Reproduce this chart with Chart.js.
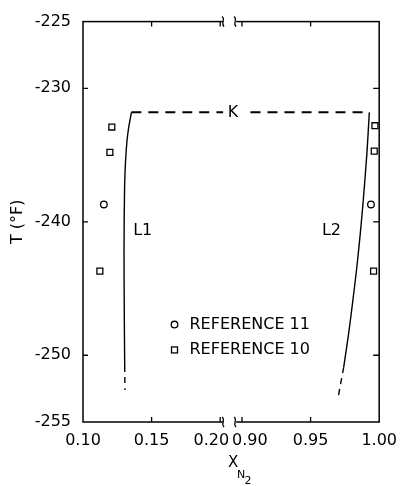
<!DOCTYPE html>
<html>
<head>
<meta charset="utf-8">
<script src="https://cdn.jsdelivr.net/npm/chart.js@4.4.1/dist/chart.umd.min.js"></script>
<style>
  html, body { margin: 0; padding: 0; background: #fff; }
  canvas { display: block; }
</style>
</head>
<body>
<canvas id="chart" width="406" height="486"></canvas>
<script>
// values (x = mole fraction N2, T in deg F)
var xTickValues = [0.10, 0.15, 0.20, 0.90, 0.95, 1.00];
var xTickLabels = ["0.10", "0.15", "0.20", "0.90", "0.95", "1.00"];
var yTickValues = [-255, -250, -240, -230, -225];

var kX = [0.1353, 0.9928];
var kT = [-231.8, -231.8];

var l1X = [0.1353, 0.1332, 0.1320, 0.1310, 0.1303, 0.1299, 0.1301, 0.1304];
var l1T = [-231.8, -233.0, -234.0, -235.5, -237.5, -242.0, -247.0, -250.8];
var l1TailX = [0.1304, 0.1306];
var l1TailT = [-250.8, -252.6];

var l2X = [0.9928, 0.9911, 0.9883, 0.9862, 0.9836, 0.9808, 0.9777, 0.9741];
var l2T = [-231.8, -234.8, -238.5, -240.9, -243.5, -245.9, -248.4, -250.9];
var l2TailX = [0.9741, 0.9700];
var l2TailT = [-250.9, -253.2];

var ref10X = [0.1210, 0.1196, 0.1123, 0.9969, 0.9964, 0.9959];
var ref10T = [-232.9, -234.8, -243.7, -232.8, -234.7, -243.7];
var ref11X = [0.1152, 0.9940];
var ref11T = [-238.7, -238.7];

// broken x axis: 0.10-0.2065 then 0.8906-1.00 squeezed together
var BREAK_LO = 0.2065;
var BREAK_HI = 0.8906;
function toAxis(x) {
    return x <= BREAK_LO ? x : x - (BREAK_HI - BREAK_LO);
}
function pts(xs, ts) {
    return xs.map(function (x, i) { return {x: toAxis(x), y: ts[i]}; });
}

var FONT = '"DejaVu Sans", sans-serif';
var X_LABEL_PAD = 9;

function lineSet(label, xs, ts, dash, width) {
    return {
        label: label,
        data: pts(xs, ts),
        showLine: true,
        borderColor: "#000",
        borderWidth: width || 1.4,
        borderDash: dash || [],
        pointRadius: 0,
        tension: 0.25,
        fill: false
    };
}

var frame = {
    id: "frame",
    afterDraw: function (chart) {
        var c = chart.ctx;
        var a = chart.chartArea;
        var xs = chart.scales.x;
        var ys = chart.scales.y;
        c.save();
        c.strokeStyle = "#000";
        c.fillStyle = "#000";
        c.lineWidth = 1.5;
        c.strokeRect(a.left, a.top, a.right - a.left, a.bottom - a.top);

        // inward tick marks
        c.lineWidth = 1.3;
        c.beginPath();
        [0.15, 0.20, 0.90, 0.95].forEach(function (v) {
            var px = xs.getPixelForValue(toAxis(v));
            c.moveTo(px, a.bottom); c.lineTo(px, a.bottom - 5);
            c.moveTo(px, a.top); c.lineTo(px, a.top + 5);
        });
        [-250, -240, -230].forEach(function (v) {
            var py = ys.getPixelForValue(v);
            c.moveTo(a.left, py); c.lineTo(a.left + 5, py);
            c.moveTo(a.right, py); c.lineTo(a.right - 6, py);
        });
        c.stroke();

        // axis break marks
        var bx = xs.getPixelForValue(BREAK_LO);
        [a.top, a.bottom].forEach(function (y) {
            c.fillStyle = "#fff";
            c.fillRect(bx - 6, y - 3, 13, 6);
            c.beginPath();
            [bx - 6, bx + 6].forEach(function (cx) {
                c.moveTo(cx - 1, y - 5);
                c.bezierCurveTo(cx + 3, y - 2, cx - 3, y + 2, cx + 1, y + 5);
            });
            c.lineWidth = 1.2;
            c.stroke();
        });

        c.fillStyle = "#000";
        c.font = "16px " + FONT;
        c.textBaseline = "middle";

        // the two tick labels beside the break, pushed apart
        var ly = a.bottom + X_LABEL_PAD + 16 * 1.2 / 2;
        c.textAlign = "right";
        c.fillText("0.20", bx, ly);
        c.textAlign = "left";
        c.fillText("0.90", bx + 3, ly);

        // K with a white gap in the dashed line
        var ky = ys.getPixelForValue(kT[0]);
        c.textAlign = "center";
        c.fillStyle = "#fff";
        c.fillRect(bx - 6, ky - 7, 22, 14);
        c.fillStyle = "#000";
        c.fillText("K", bx + 4, ky);

        c.fillText("L1", xs.getPixelForValue(toAxis(0.1435)), ys.getPixelForValue(-240.7));
        c.fillText("L2", xs.getPixelForValue(toAxis(0.9652)), ys.getPixelForValue(-240.7));

        // legend
        var mx = xs.getPixelForValue(toAxis(0.1667));
        var r11y = ys.getPixelForValue(-247.7);
        var r10y = ys.getPixelForValue(-249.6);
        c.lineWidth = 1.3;
        c.beginPath();
        c.arc(mx, r11y, 3.3, 0, Math.PI * 2);
        c.stroke();
        c.strokeRect(mx - 3, r10y - 3, 6, 6);
        c.textAlign = "left";
        c.fillText("REFERENCE 11", mx + 15, r11y);
        c.fillText("REFERENCE 10", mx + 15, r10y);

        // x axis title with subscript
        var tx = bx + 4;
        c.font = "15px " + FONT;
        c.textAlign = "center";
        c.fillText("X", tx, 463);
        c.font = "11px " + FONT;
        c.fillText("N", tx + 8, 475);
        c.fillText("2", tx + 15, 481);
        c.restore();
    }
};

new Chart(document.getElementById("chart"), {
    type: "scatter",
    data: {
        datasets: [
            lineSet("K", kX, kT, [10, 7], 2),
            lineSet("L1", l1X, l1T),
            lineSet("L1 extrapolated", l1TailX, l1TailT, [6, 5]),
            lineSet("L2", l2X, l2T),
            lineSet("L2 extrapolated", l2TailX, l2TailT, [6, 5]),
            {
                label: "REFERENCE 11",
                data: pts(ref11X, ref11T),
                pointStyle: "circle",
                pointRadius: 3.3,
                borderWidth: 1.3,
                pointBorderColor: "#000",
                pointBackgroundColor: "rgba(0,0,0,0)"
            },
            {
                label: "REFERENCE 10",
                data: pts(ref10X, ref10T),
                pointStyle: "rect",
                pointRadius: 4.2,
                borderWidth: 1.3,
                pointBorderColor: "#000",
                pointBackgroundColor: "rgba(0,0,0,0)"
            }
        ]
    },
    options: {
        responsive: false,
        animation: false,
        layout: {padding: {left: 0, right: 25, top: 15, bottom: 0}},
        plugins: {legend: {display: false}, tooltip: {enabled: false}},
        scales: {
            x: {
                type: "linear",
                min: toAxis(0.10),
                max: toAxis(1.00),
                afterBuildTicks: function (scale) {
                    scale.ticks = xTickValues.map(function (v) { return {value: toAxis(v)}; });
                },
                afterFit: function (scale) { scale.height = 64; },
                grid: {display: false, drawTicks: false},
                border: {display: false},
                ticks: {
                    autoSkip: false,
                    maxRotation: 0,
                    padding: X_LABEL_PAD,
                    color: "#000",
                    font: {family: FONT, size: 16},
                    callback: function (val, i) {
                        var lab = xTickLabels[i];
                        return (lab === "0.20" || lab === "0.90") ? "" : lab;
                    }
                }
            },
            y: {
                type: "linear",
                min: -255,
                max: -225,
                afterBuildTicks: function (scale) {
                    scale.ticks = yTickValues.map(function (v) { return {value: v}; });
                },
                afterFit: function (scale) { scale.width = 83; },
                grid: {display: false, drawTicks: false},
                border: {display: false},
                title: {
                    display: true,
                    text: "T (°F)",
                    color: "#000",
                    font: {family: FONT, size: 16},
                    padding: {top: 8, bottom: 0}
                },
                ticks: {
                    padding: 12,
                    color: "#000",
                    font: {family: FONT, size: 16},
                    callback: function (val) { return String(val); }
                }
            }
        }
    },
    plugins: [frame]
});
</script>
</body>
</html>
